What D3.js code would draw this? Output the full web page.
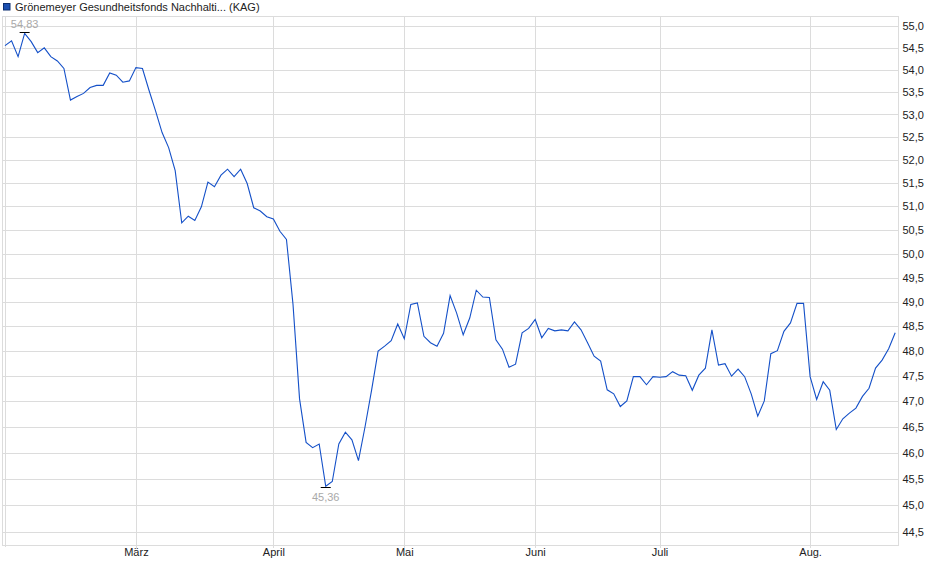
<!DOCTYPE html>
<html><head><meta charset="utf-8">
<script src="https://cdn.jsdelivr.net/npm/d3@7"></script>
<style>
html,body{margin:0;padding:0;background:#fff;}
svg{display:block;font-family:"Liberation Sans",Arial,sans-serif;}
</style></head><body>
<svg id="c" width="940" height="579"></svg>
<script>
const seriesName = "Grönemeyer Gesundheitsfonds Nachhalti... (KAG)";
const values = [
54.55,54.66,54.30,54.83,54.64,54.39,54.50,54.30,54.20,54.03,
53.32,53.40,53.47,53.60,53.65,53.65,53.93,53.88,53.72,53.75,
54.05,54.03,53.54,53.08,52.60,52.27,51.77,50.65,50.79,50.70,
50.99,51.52,51.42,51.67,51.80,51.64,51.80,51.49,50.97,50.90,
50.78,50.73,50.47,50.30,48.95,47.05,46.20,46.10,46.17,45.36,
45.45,46.17,46.40,46.25,45.85,46.50,47.22,48.00,48.10,48.21,
48.55,48.25,48.95,48.98,48.30,48.17,48.10,48.36,49.13,48.77,
48.33,48.67,49.24,49.10,49.09,48.23,48.04,47.68,47.74,48.37,
48.46,48.64,48.27,48.46,48.41,48.43,48.41,48.59,48.43,48.17,
47.90,47.80,47.23,47.15,46.90,47.01,47.49,47.49,47.33,47.49,
47.48,47.49,47.59,47.52,47.51,47.22,47.52,47.66,48.43,47.72,
47.75,47.50,47.64,47.49,47.15,46.71,47.01,47.95,48.01,48.40,
48.57,48.97,48.97,47.49,47.04,47.39,47.22,46.45,46.66,46.77,
46.87,47.10,47.26,47.66,47.82,48.05,48.37
];
const monthLabels = ["März","April","Mai","Juni","Juli","Aug."];
const monthIndex = [20,41,61,81,100,123];
const yTicks = [44.5,45,45.5,46,46.5,47,47.5,48,48.5,49,49.5,50,50.5,51,51.5,52,52.5,53,53.5,54,54.5,55];
const maxLabel = "54,83", minLabel = "45,36";

const svg = d3.select("#c");
const L = 2.5, R = 898.5, T = 16, B = 545;
const x = d3.scaleLinear().domain([0, values.length - 1]).range([5, 895.2]);
const y = d3.scaleLog().domain([44.5, 55]).range([532, 26]);
const grid = "#dcdcdc";

// horizontal grid
svg.append("g").selectAll("line").data(yTicks).join("line")
  .attr("x1", L).attr("x2", R)
  .attr("y1", d => Math.round(y(d)) + 0.5).attr("y2", d => Math.round(y(d)) + 0.5)
  .attr("stroke", grid).attr("stroke-width", 1);

// vertical grid (start + months)
svg.append("line").attr("x1", x(0)+0.5).attr("x2", x(0)+0.5).attr("y1", T).attr("y2", B+2)
  .attr("stroke", grid);
svg.append("g").selectAll("line").data(monthIndex).join("line")
  .attr("x1", d => Math.round(x(d)) + 0.5).attr("x2", d => Math.round(x(d)) + 0.5)
  .attr("y1", T).attr("y2", B + 3)
  .attr("stroke", grid);

// frame
svg.append("rect").attr("x", L).attr("y", T + 0.5).attr("width", R - L).attr("height", B - T)
  .attr("fill", "none").attr("stroke", grid);

// y axis labels (right)
const yAxis = d3.axisRight(y).tickValues(yTicks).tickSize(0).tickPadding(0)
  .tickFormat(d => d3.format(".1f")(d).replace(".", ","));
const ya = svg.append("g").attr("transform", `translate(${R + 4},0)`).call(yAxis);
ya.select(".domain").remove();
ya.selectAll("text").attr("fill", "#222").style("font-size", "11px")
  .style("font-family", "'Liberation Sans',Arial,sans-serif");

// x labels
const xAxis = d3.axisBottom(x).tickValues(monthIndex).tickSize(0).tickPadding(0)
  .tickFormat((d, i) => monthLabels[i]);
const xa = svg.append("g").attr("transform", `translate(0,${B + 3})`).call(xAxis);
xa.select(".domain").remove();
xa.selectAll("text").attr("fill", "#222").style("font-size", "11px")
  .style("font-family", "'Liberation Sans',Arial,sans-serif");

// line
const line = d3.line().x((d, i) => x(i)).y(d => y(d));
svg.append("path").datum(values).attr("d", line)
  .attr("fill", "none").attr("stroke", "#1450c8").attr("stroke-width", 1.1)
  .attr("stroke-linejoin", "miter");

// max / min markers
const iMax = d3.maxIndex(values), iMin = d3.minIndex(values);
svg.append("line").attr("x1", x(iMax) - 5).attr("x2", x(iMax) + 5)
  .attr("y1", Math.round(y(values[iMax])) - 0.5).attr("y2", Math.round(y(values[iMax])) - 0.5)
  .attr("stroke", "#000");
svg.append("text").attr("x", x(iMax)).attr("y", y(values[iMax]) - 5)
  .attr("text-anchor", "middle").attr("fill", "#a9a9a9").style("font-size", "11px").text(maxLabel);
svg.append("line").attr("x1", x(iMin) - 5).attr("x2", x(iMin) + 5)
  .attr("y1", Math.round(y(values[iMin])) + 1.5).attr("y2", Math.round(y(values[iMin])) + 1.5)
  .attr("stroke", "#000");
svg.append("text").attr("x", x(iMin)).attr("y", y(values[iMin]) + 15)
  .attr("text-anchor", "middle").attr("fill", "#a9a9a9").style("font-size", "11px").text(minLabel);

// legend
svg.append("rect").attr("x", 3.5).attr("y", 3.5).attr("width", 6.5).attr("height", 6.5)
  .attr("fill", "#1c50b0").attr("stroke", "#0d2f70").attr("stroke-width", 1);
svg.append("text").attr("x", 15).attr("y", 11).attr("fill", "#222").style("font-size", "11px").text(seriesName);
</script>
</body></html>
